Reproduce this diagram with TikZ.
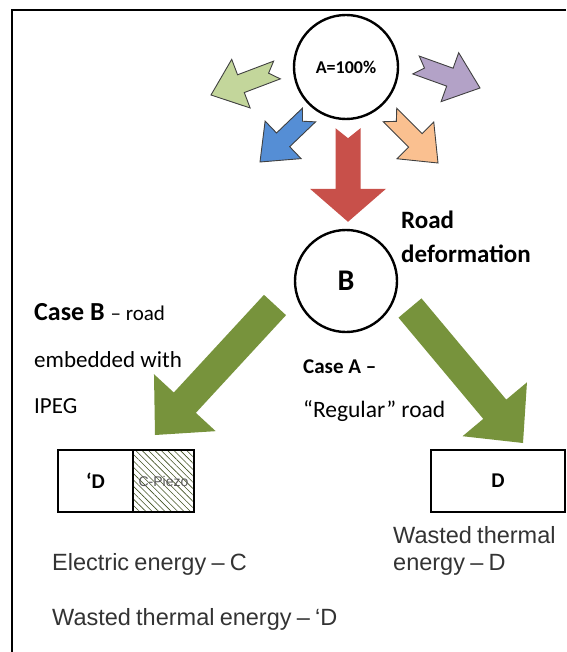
\documentclass[tikz,border=0pt]{standalone}
\usepackage{fontspec}
\setmainfont{Carlito}
\newfontfamily\arialfont[WordSpace=0.8]{Liberation Sans}
\usepackage{tikz}
\usetikzlibrary{calc}
\usetikzlibrary{patterns.meta}

\definecolor{ltgreen}{HTML}{C3D69B}
\definecolor{ltblue}{HTML}{558ED5}
\definecolor{ltpurple}{HTML}{B3A2C7}
\definecolor{ltorange}{HTML}{FAC090}
\definecolor{darkred}{HTML}{C8504A}
\definecolor{olivegreen}{HTML}{77933C}

% #1 style, #2 tail, #3 tip, #4 half shaft, #5 half head, #6 head length, #7 notch
\newcommand{\blockarrow}[7]{
	\coordinate (hb) at ($(#3)!#6!(#2)$);
	\coordinate (nt) at ($(#2)!#7!(#3)$);
	\filldraw[#1] ($(#2)!#4!90:(#3)$) -- ($(hb)!#4!90:(#3)$) -- ($(hb)!#5!90:(#3)$) -- (#3) -- ($(hb)!#5!-90:(#3)$) -- ($(hb)!#4!-90:(#3)$) -- ($(#2)!#4!-90:(#3)$) -- (nt) -- cycle;
}

\begin{document}
\begin{tikzpicture}[x=1pt,y=-1pt]
		\tikzset{ring/.style={circle,draw,line width=2.4pt,inner sep=0pt,minimum size=#1}};
		\tikzset{smallarrow/.style={fill=#1,draw=black!75,line width=0.9pt,line join=miter}};
		\tikzset{box/.style={draw,line width=1.2pt,inner sep=0pt,outer sep=0pt,minimum height=62pt}};
		\tikzset{txt/.style={inner sep=0pt,anchor=base west,font=\fontsize{#1}{#1}\selectfont}};
		\tikzset{btxt/.style={txt=#1,font=\fontsize{#1}{#1}\selectfont\bfseries}};
		\tikzset{atxt/.style={inner sep=0pt,anchor=base west,text=black!80,font=\arialfont\fontsize{23.5}{23.5}\selectfont}};
		\useasboundingbox (0,0) rectangle (566,652);
		\draw[line width=2.4pt] (566,10) -- (12,10) -- (12,652);

		\node[ring=104pt] (A) at (346,67) {\fontsize{18}{18}\selectfont\bfseries A=100\%};
		\node[ring=102pt] (B) at (346,281) {\fontsize{30}{30}\selectfont\bfseries B};

		\coordinate (gr1) at (277,70); \coordinate (gr2) at (211,95);
		\coordinate (bl1) at (309,115); \coordinate (bl2) at (260,162);
		\coordinate (pu1) at (416,65); \coordinate (pu2) at (480,88);
		\coordinate (or1) at (390,115); \coordinate (or2) at (438,163);
		\blockarrow{smallarrow=ltgreen}{gr1}{gr2}{9.5pt}{26pt}{32pt}{9pt}
		\blockarrow{smallarrow=ltblue}{bl1}{bl2}{9.5pt}{26pt}{32pt}{9pt}
		\blockarrow{smallarrow=ltpurple}{pu1}{pu2}{9.5pt}{26pt}{32pt}{9pt}
		\blockarrow{smallarrow=ltorange}{or1}{or2}{9.5pt}{26pt}{32pt}{9pt}

		\coordinate (rd1) at ($(A.south)+(2,8)$); \coordinate (rd2) at ($(B.north)+(2,-7)$);
		\blockarrow{fill=darkred,draw=none}{rd1}{rd2}{12.5pt}{38pt}{33pt}{10pt}

		\coordinate (lt1) at (275,305); \coordinate (lt2) at (155,435);
		\coordinate (rt1) at (410,308); \coordinate (rt2) at (523,443);
		\blockarrow{fill=olivegreen,draw=none}{lt1}{lt2}{15pt}{42pt}{44pt}{0pt}
		\blockarrow{fill=olivegreen,draw=none}{rt1}{rt2}{15pt}{42pt}{44pt}{0pt}

		\node[box,minimum width=75pt,anchor=north west] (Dp) at (58,450) {\raisebox{-6pt}{\fontsize{21}{21}\selectfont\bfseries ‘D}};
		\node[box,minimum width=61pt,anchor=north west,pattern={Lines[angle=-45,distance=4.5pt,line width=0.6pt]},pattern color=olivegreen!55!black] (pz) at (Dp.north east) {\arialfont\fontsize{14}{14}\selectfont\color{black!65}C-Piezo};
		\node[box,minimum width=134pt] (D) at (498,481) {\fontsize{21}{21}\selectfont\bfseries D};

		\node[btxt=25] (road) at (401,228) {Road};
		\node[btxt=25] (deform) at (401,262) {deformation};
		\node[txt=21] (caseb) at (34,320) {\fontsize{26}{26}\selectfont\bfseries Case B \mdseries\fontsize{21}{21}\selectfont– road};
		\node[txt=23] (emb) at (34,367) {embedded with};
		\node[txt=23] (ipeg) at (34,413) {IPEG};
		\node[btxt=21] (casea) at (303,373) {Case A –};
		\node[txt=23.5] (regular) at (303,417) {“Regular” road};
		\node[atxt] (wasted) at (393,543) {Wasted thermal};
		\node[atxt] (energyd) at (393,570) {energy – D};
		\node[atxt] (elec) at (52,570) {Electric energy – C};
		\node[atxt] (wasted2) at (52,625) {Wasted thermal energy – ‘D};
\end{tikzpicture}
\end{document}
